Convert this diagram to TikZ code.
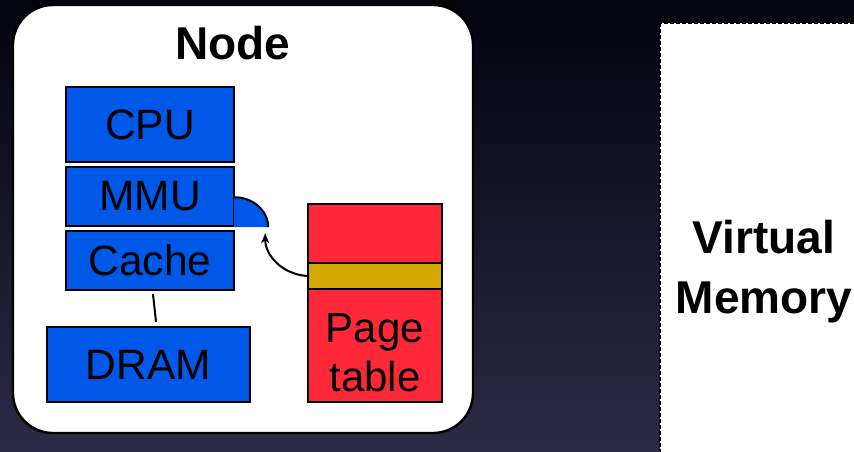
\documentclass[tikz,border=0pt]{standalone}
\usepackage{fontspec}
\setmainfont{Liberation Sans}
\usetikzlibrary{arrows.meta}

\definecolor{unitblue}{RGB}{0,88,232}
\definecolor{tablered}{RGB}{255,40,56}
\definecolor{entrygold}{RGB}{212,168,0}
\definecolor{bgtop}{RGB}{3,3,14}
\definecolor{bgbottom}{RGB}{44,42,70}

\tikzset{
  unit/.style={draw, line width=2.4pt, fill=unitblue, inner sep=0pt,
    minimum width=168pt, font=\fontsize{42.5}{46}\selectfont},
  ptpart/.style={draw, line width=2.4pt, fill=tablered, inner sep=0pt,
    minimum width=134pt},
  bigtitle/.style={font=\fontsize{46}{60}\selectfont\bfseries, align=center}
}

\begin{document}
\begin{tikzpicture}[x=1pt,y=-1pt]
\useasboundingbox (0,0) rectangle (854,451);
\shade[top color=bgtop, bottom color=bgbottom] (0,0) rectangle (854,451);

% node frame
\draw[line width=2.4pt, fill=white, rounded corners=40pt] (13,5) rectangle (473,433);
\node[bigtitle] (title) at (233,43) {Node};

% processor stack
\node[unit, minimum height=75pt] (cpu) at (150,124.5) {CPU};
\node[unit, minimum height=59pt] (mmu) at (150,196.5) {MMU};
\node[unit, minimum height=59pt] (cache) at (150,260.5) {Cache};
\node[unit, minimum height=75pt, minimum width=203pt] (dram) at (148.5,364.5) {DRAM};
\draw[line width=2pt] ([xshift=3pt,yshift=-3pt]cache.south) -- ([xshift=7.5pt,yshift=4pt]dram.north);

% tlb bump on the mmu
\coordinate (bumpc) at ([xshift=-1pt]mmu.south east);
\fill[unitblue] (bumpc) -- ([yshift=30pt]bumpc) arc[start angle=90, end angle=0, x radius=34pt, y radius=30pt] -- cycle;
\draw[line width=2pt] ([yshift=30pt]bumpc) arc[start angle=90, end angle=0, x radius=34pt, y radius=30pt];
\coordinate (bumptip) at ([xshift=31pt,yshift=-6pt]bumpc);

% page table
\node[ptpart, minimum height=59pt] (pttop) at (375,233.5) {};
\node[ptpart, minimum height=26pt, fill=entrygold] (entry) at (375,276) {};
\node[ptpart, minimum height=113pt] (ptbot) at (375,345.5) {};
\node[align=center, font=\fontsize{42}{49}\selectfont] (ptlabel) at ([yshift=-7pt]ptbot.center) {Page\\table};
\draw[line width=2pt, -{Stealth[length=10pt,width=8pt,inset=3pt]}] (entry.west) .. controls +(-25,-2) and +(0,22) .. (bumptip);

% virtual memory
\draw[fill=white, line width=1.8pt, dash pattern=on 4pt off 2pt] (660,23) rectangle (900,480);
\node[bigtitle] (vm) at (764,272) {Virtual\\Memory};
\end{tikzpicture}
\end{document}
